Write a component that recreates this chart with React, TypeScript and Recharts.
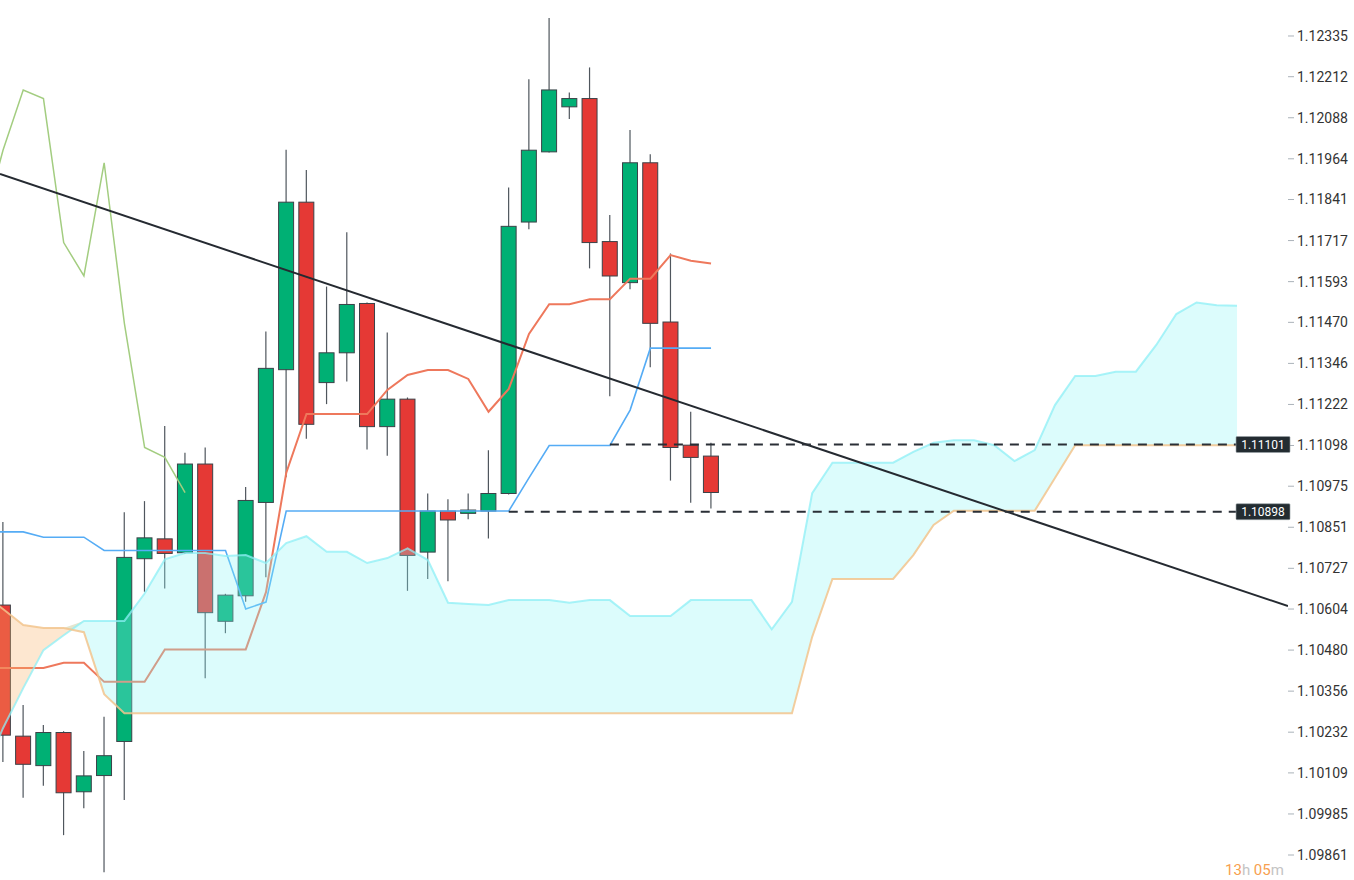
import React from 'react';
import {
  ComposedChart,
  Bar,
  Line,
  Area,
  XAxis,
  YAxis,
  ReferenceLine,
  ReferenceDot,
} from 'recharts';

// ---------- data (candles index 0..35, indicator arrays start at index -1) ----------
const opens = [
  1.10616, 1.1022, 1.10131, 1.10231, 1.10052, 1.10101, 1.10204, 1.10756, 1.10816, 1.10774,
  1.11042, 1.10567, 1.10644, 1.10926, 1.11327, 1.11833, 1.11288, 1.11378, 1.11527, 1.11155,
  1.11238, 1.10776, 1.109, 1.10893, 1.109, 1.10953, 1.11773, 1.11985, 1.12121, 1.12146,
  1.11714, 1.1159, 1.11952, 1.11471, 1.11099, 1.11066,
];
const highs = [
  1.10867, 1.10314, 1.10254, 1.10235, 1.10175, 1.10279, 1.10896, 1.1093, 1.11157, 1.11076,
  1.11092, 1.1065, 1.10973, 1.11442, 1.11991, 1.1193, 1.11578, 1.11742, 1.1153, 1.11439,
  1.11243, 1.10953, 1.10936, 1.10953, 1.11084, 1.11877, 1.12204, 1.12389, 1.12164, 1.1224,
  1.11794, 1.12051, 1.11978, 1.11678, 1.112, 1.11106,
];
const lows = [
  1.10142, 1.10034, 1.1007, 1.09921, 1.10002, 1.09809, 1.10027, 1.10656, 1.10666, 1.1077,
  1.10395, 1.10531, 1.10626, 1.107, 1.11002, 1.11118, 1.11223, 1.11291, 1.11086, 1.11067,
  1.10659, 1.10695, 1.10688, 1.10875, 1.10817, 1.1095, 1.11751, 1.11983, 1.12084, 1.11633,
  1.11247, 1.1157, 1.11334, 1.10992, 1.10925, 1.10908,
];
const closes = [
  1.10223, 1.10135, 1.10231, 1.10049, 1.101, 1.10161, 1.1076, 1.10819, 1.10772, 1.11042,
  1.10593, 1.10646, 1.10932, 1.11331, 1.11833, 1.11162, 1.11378, 1.11524, 1.11155, 1.11238,
  1.10766, 1.109, 1.10873, 1.10903, 1.10953, 1.1176, 1.1199, 1.12172, 1.12146, 1.11711,
  1.1161, 1.11952, 1.11467, 1.11092, 1.11062, 1.10956,
];

const tenkan = [
  1.10426, 1.10426, 1.10426, 1.10426, 1.10442, 1.10442, 1.10384, 1.10384, 1.10384, 1.10482,
  1.10482, 1.10482, 1.10482, 1.10482, 1.10655, 1.11015, 1.11193, 1.11193, 1.11193, 1.11193,
  1.11266, 1.11311, 1.11326, 1.11326, 1.11299, 1.112, 1.11269, 1.11435, 1.11525, 1.11525,
  1.1154, 1.1154, 1.11602, 1.11602, 1.11673, 1.11656, 1.11648,
];
const kijun = [
  1.10837, 1.10837, 1.10837, 1.10821, 1.10821, 1.10821, 1.10781, 1.10781, 1.10781, 1.10781,
  1.10781, 1.10781, 1.10781, 1.10604, 1.10625, 1.109, 1.109, 1.109, 1.109, 1.109,
  1.109, 1.109, 1.109, 1.109, 1.109, 1.109, 1.109, 1.11, 1.11098, 1.11098,
  1.11098, 1.11098, 1.11205, 1.11392, 1.11392, 1.11392, 1.11392,
];
const chikou = [
  1.1176, 1.1199, 1.12172, 1.12146, 1.11711, 1.1161, 1.11952, 1.11467, 1.11092, 1.11062, 1.10956,
];
const spanA = [
  1.10102, 1.10244, 1.10365, 1.1048, 1.10525, 1.10568, 1.10568, 1.10568, 1.10651, 1.10754,
  1.10773, 1.10773, 1.10764, 1.10767, 1.10743, 1.10803, 1.10824, 1.10777, 1.10777, 1.10743,
  1.10758, 1.10787, 1.10752, 1.10623, 1.10619, 1.10616, 1.10631, 1.10631, 1.10631, 1.10623,
  1.10631, 1.10631, 1.10583, 1.10583, 1.10583, 1.10631, 1.10631, 1.10631, 1.10631, 1.10543,
  1.10626, 1.10954, 1.11046, 1.11046, 1.11046, 1.11046, 1.11079, 1.11106, 1.11114, 1.11114,
  1.11099, 1.11051, 1.11084, 1.1122, 1.11308, 1.11308, 1.11321, 1.11321, 1.11401, 1.11495,
  1.1153, 1.11522, 1.1152,
];
const spanB = [
  1.10649, 1.10604, 1.10556, 1.10547, 1.10547, 1.10534, 1.10347, 1.10289, 1.10289, 1.10289,
  1.10289, 1.10289, 1.10289, 1.10289, 1.10289, 1.10289, 1.10289, 1.10289, 1.10289, 1.10289,
  1.10289, 1.10289, 1.10289, 1.10289, 1.10289, 1.10289, 1.10289, 1.10289, 1.10289, 1.10289,
  1.10289, 1.10289, 1.10289, 1.10289, 1.10289, 1.10289, 1.10289, 1.10289, 1.10289, 1.10289,
  1.10289, 1.1052, 1.10695, 1.10695, 1.10695, 1.10695, 1.10767, 1.10858, 1.10901, 1.10901,
  1.10901, 1.10901, 1.10901, 1.11, 1.11099, 1.11099, 1.11099, 1.11099, 1.11099, 1.11099,
  1.11099, 1.11099, 1.11099,
];

const yTicks = [
  1.09861, 1.09985, 1.10109, 1.10232, 1.10356, 1.1048, 1.10604, 1.10727, 1.10851, 1.10975,
  1.11098, 1.11222, 1.11346, 1.1147, 1.11593, 1.11717, 1.11841, 1.11964, 1.12088, 1.12212,
  1.12335,
];

const levelLines = [
  { value: 1.11101, from: 30, to: 61, label: '1.11101' },
  { value: 1.10898, from: 25, to: 61, label: '1.10898' },
];
const trendPoints = [
  { x: -0.148, y: 1.11918 },
  { x: 63.52, y: 1.10613 },
];

const FIRST_INDEX = -1;
const LAST_INDEX = 61;
const X_DOMAIN: [number, number] = [-0.148, 63.52];
const Y_DOMAIN: [number, number] = [1.097855, 1.124437];

// ---------- build table ----------
type Row = { [k: string]: number | undefined };
const data: Row[] = [];
for (let i = FIRST_INDEX; i <= LAST_INDEX; i++) {
  const t = i - FIRST_INDEX;
  const row: Row = { i };
  if (i >= 0 && i < opens.length) {
    row.o = opens[i];
    row.h = highs[i];
    row.l = lows[i];
    row.c = closes[i];
  }
  if (t < tenkan.length) row.tenkan = tenkan[t];
  if (t < kijun.length) row.kijun = kijun[t];
  if (t < chikou.length) row.chikou = chikou[t];
  if (t < spanA.length) row.spanA = spanA[t];
  if (t < spanB.length) row.spanB = spanB[t];
  data.push(row);
}

const GREEN = '#00b074';
const RED = '#e53935';

const candleRange = (d: Row) => (d.o != null ? [d.l, d.h] : undefined);
const bullCloud = (d: Row) =>
  d.spanA != null && d.spanB != null ? [d.spanB, Math.max(d.spanA, d.spanB)] : undefined;
const bearCloud = (d: Row) =>
  d.spanA != null && d.spanB != null ? [d.spanA, Math.max(d.spanA, d.spanB)] : undefined;

const CandleShape = (props: any) => {
  const { x, y, width, height, payload } = props;
  if (!payload || payload.o == null || !Number.isFinite(y) || !Number.isFinite(height)) return <g />;
  const { o, h, l, c } = payload;
  const top = Math.min(y, y + height);
  const span = Math.abs(height);
  const k = h !== l ? span / (h - l) : 0;
  const yOf = (p: number) => top + (h - p) * k;
  const cx = x + width / 2;
  const up = c >= o;
  const bTop = yOf(Math.max(o, c));
  const bBot = yOf(Math.min(o, c));
  const bh = Math.max(bBot - bTop, 1.5);
  return (
    <g>
      <line x1={cx} x2={cx} y1={top} y2={top + span} stroke="#4f565d" strokeWidth={1.2} />
      <rect
        x={cx - 7.5}
        y={bTop}
        width={15}
        height={bh}
        fill={up ? GREEN : RED}
        stroke="#3b4248"
        strokeWidth={1}
      />
    </g>
  );
};

const LevelTag = ({ cx, cy, text }: { cx: number; cy: number; text: string }) => (
  <g>
    <rect x={cx - 1} y={cy - 8} width={54} height={16} fill="#232c31" stroke="#9aa3a8" strokeWidth={0.6} rx={1} />
    <text
      x={cx + 26}
      y={cy}
      dy="0.36em"
      textAnchor="middle"
      fill="#ffffff"
      fontSize={12}
      fontFamily="Roboto, 'Noto Sans', sans-serif"
    >
      {text}
    </text>
  </g>
);

export default function App() {
  return (
    <div
      style={{
        position: 'absolute',
        left: 0,
        top: 0,
        width: 1354,
        height: 880,
        background: '#ffffff',
        overflow: 'hidden',
      }}
    >
      <ComposedChart width={1354} height={880} data={data} margin={{ top: 0, right: 0, bottom: 0, left: 0 }}>
        <XAxis dataKey="i" type="number" domain={X_DOMAIN} allowDataOverflow hide />
        <YAxis
          orientation="right"
          type="number"
          width={66}
          domain={Y_DOMAIN}
          allowDataOverflow
          ticks={yTicks}
          interval={0}
          tickFormatter={(v: number) => v.toFixed(5)}
          axisLine={false}
          tickLine={{ stroke: '#aab2b9' }}
          tickSize={6}
          tickMargin={3}
          tick={{ fontSize: 14, fill: '#333333', fontFamily: 'Roboto, sans-serif' }}
        />
        <Bar
          dataKey={candleRange as any}
          shape={CandleShape}
          barSize={16}
          isAnimationActive={false}
          activeBar={false}
          zIndex={100}
        />
        <Line
          dataKey="tenkan"
          type="linear"
          stroke="#ee785c"
          strokeWidth={2}
          dot={false}
          activeDot={false}
          isAnimationActive={false}
          connectNulls
          zIndex={200}
        />
        <Line
          dataKey="kijun"
          type="linear"
          stroke="#55acf5"
          strokeWidth={1.6}
          dot={false}
          activeDot={false}
          isAnimationActive={false}
          connectNulls
          zIndex={200}
        />
        <Line
          dataKey="chikou"
          type="linear"
          stroke="#a3cd80"
          strokeWidth={1.5}
          dot={false}
          activeDot={false}
          isAnimationActive={false}
          zIndex={200}
        />
        <Area
          dataKey={bullCloud as any}
          type="linear"
          stroke="none"
          fill="rgb(140,245,245)"
          fillOpacity={0.3}
          dot={false}
          activeDot={false}
          isAnimationActive={false}
          zIndex={300}
        />
        <Area
          dataKey={bearCloud as any}
          type="linear"
          stroke="none"
          fill="rgb(250,175,100)"
          fillOpacity={0.3}
          dot={false}
          activeDot={false}
          isAnimationActive={false}
          zIndex={300}
        />
        <Line
          dataKey="spanA"
          type="linear"
          stroke="#8eeff5"
          strokeOpacity={0.75}
          strokeWidth={2}
          dot={false}
          activeDot={false}
          isAnimationActive={false}
          zIndex={350}
        />
        <Line
          dataKey="spanB"
          type="linear"
          stroke="#f2c48d"
          strokeOpacity={0.85}
          strokeWidth={2}
          dot={false}
          activeDot={false}
          isAnimationActive={false}
          zIndex={350}
        />
        <ReferenceLine
          segment={trendPoints}
          stroke="#252a31"
          strokeWidth={2}
          ifOverflow="hidden"
          zIndex={400}
        />
        {levelLines.map((lv) => (
          <ReferenceLine
            key={lv.label}
            segment={[
              { x: lv.from, y: lv.value },
              { x: lv.to, y: lv.value },
            ]}
            stroke="#2a2f36"
            strokeWidth={2}
            strokeDasharray="9 7"
            ifOverflow="visible"
            zIndex={410}
          />
        ))}
        {levelLines.map((lv) => (
          <ReferenceDot
            key={'tag' + lv.label}
            x={lv.to}
            y={lv.value}
            r={0}
            ifOverflow="visible"
            zIndex={500}
            shape={(p: any) => <LevelTag cx={p.cx} cy={p.cy} text={lv.label} />}
          />
        ))}
      </ComposedChart>
      <div
        style={{
          position: 'absolute',
          left: 1225,
          top: 863,
          fontFamily: 'Roboto, sans-serif',
          fontSize: 15,
          lineHeight: '15px',
          whiteSpace: 'nowrap',
        }}
      >
        <span style={{ color: '#f7a050' }}>13</span>
        <span style={{ color: '#c4c4c4' }}>h </span>
        <span style={{ color: '#f7a050' }}>05</span>
        <span style={{ color: '#c4c4c4' }}>m</span>
      </div>
    </div>
  );
}
